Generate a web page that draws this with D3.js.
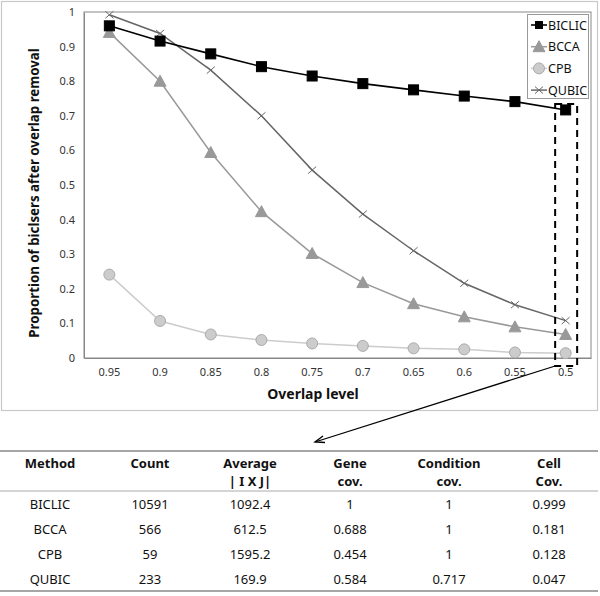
<!DOCTYPE html>
<html><head><meta charset="utf-8">
<script src="https://cdn.jsdelivr.net/npm/d3@7"></script>
<style>body{margin:0;background:#fff;font-family:"Noto Sans","Open Sans",sans-serif;}</style>
</head><body><svg id="c" width="600" height="596"></svg>
<script>
const categories = ["0.95","0.9","0.85","0.8","0.75","0.7","0.65","0.6","0.55","0.5"];
const biclic = [0.960,0.916,0.879,0.842,0.815,0.793,0.775,0.757,0.741,0.717];
const bcca   = [0.941,0.800,0.594,0.423,0.302,0.218,0.157,0.119,0.090,0.068];
const cpb    = [0.241,0.107,0.068,0.052,0.042,0.035,0.028,0.025,0.016,0.014];
const qubic  = [0.992,0.938,0.832,0.700,0.543,0.416,0.310,0.216,0.154,0.108];
const yTicks = [0,0.1,0.2,0.3,0.4,0.5,0.6,0.7,0.8,0.9,1];
const tableHeaders = [["Method"],["Count"],["Average","| I X J|"],["Gene","cov."],["Condition","cov."],["Cell","Cov."]];
const tableRows = [
  ["BICLIC","10591","1092.4","1","1","0.999"],
  ["BCCA","566","612.5","0.688","1","0.181"],
  ["CPB","59","1595.2","0.454","1","0.128"],
  ["QUBIC","233","169.9","0.584","0.717","0.047"]
];

const svg = d3.select("#c");
const font = '"Noto Sans","Open Sans",sans-serif';
// outer frame
svg.append("rect").attr("x",1.5).attr("y",1.5).attr("width",596).attr("height",409)
  .attr("fill","#fff").attr("stroke","#c8c8c8").attr("stroke-width",1.2);

const L=84,R=591,T=12,B=358;
const x = d3.scaleBand().domain(categories).range([L,R]);
const y = d3.scaleLinear().domain([0,1]).range([B,T]);

// plot border
svg.append("rect").attr("x",L).attr("y",T).attr("width",R-L).attr("height",B-T)
  .attr("fill","none").attr("stroke","#888").attr("stroke-width",1);

// axes
const yAxis = svg.append("g").attr("transform",`translate(${L},0)`)
  .call(d3.axisLeft(y).tickValues(yTicks).tickSize(0).tickPadding(9).tickFormat(d=>d3.format("~g")(d)));
yAxis.select(".domain").attr("stroke","#888");
yAxis.selectAll("text").attr("font-family",font).attr("font-size",11).attr("fill","#333");
const xAxis = svg.append("g").attr("transform",`translate(0,${B})`)
  .call(d3.axisBottom(x).tickSize(0).tickPadding(10));
xAxis.select(".domain").attr("stroke","#888");
xAxis.selectAll("text").attr("font-family",font).attr("font-size",11).attr("fill","#333");

// titles
svg.append("text").attr("x",313).attr("y",399).attr("text-anchor","middle")
  .attr("font-family",font).attr("font-weight","bold").attr("font-size",14).attr("fill","#111").text("Overlap level");
svg.append("text").attr("transform","translate(39,193) rotate(-90)").attr("text-anchor","middle")
  .attr("font-family",font).attr("font-weight","bold").attr("font-size",13.3).attr("fill","#111")
  .text("Proportion of biclsers after overlap removal");

const series = [
  {name:"BICLIC", vals:biclic, color:"#000", mfill:"#000", mstroke:"#000", marker:"square", w:1.6},
  {name:"BCCA", vals:bcca, color:"#999", mfill:"#999", mstroke:"#999", marker:"triangle", w:1.5},
  {name:"CPB", vals:cpb, color:"#ccc", mfill:"#ccc", mstroke:"#aaa", marker:"circle", w:1.5},
  {name:"QUBIC", vals:qubic, color:"#666", mfill:"none", mstroke:"#666", marker:"x", w:1.5}
];
const line = d3.line().x((d,i)=>x(categories[i])+x.bandwidth()/2).y(d=>y(d));

function drawMarker(g, type, cx, cy, s){
  if(type==="square"){
    g.append("rect").attr("x",cx-5).attr("y",cy-5).attr("width",10).attr("height",10).attr("fill",s.mfill).attr("stroke",s.mstroke);
  } else if(type==="triangle"){
    g.append("path").attr("d",`M${cx},${cy-6}L${cx+6},${cy+5}L${cx-6},${cy+5}Z`).attr("fill",s.mfill).attr("stroke",s.mstroke);
  } else if(type==="circle"){
    g.append("circle").attr("cx",cx).attr("cy",cy).attr("r",5.5).attr("fill",s.mfill).attr("stroke",s.mstroke);
  } else {
    g.append("path").attr("d",`M${cx-4},${cy-3.5}L${cx+4},${cy+3.5}M${cx-4},${cy+3.5}L${cx+4},${cy-3.5}`).attr("stroke",s.mstroke).attr("stroke-width",1).attr("fill","none");
  }
}

// draw in order so BICLIC is on top
[series[2],series[1],series[3],series[0]].forEach(s=>{
  const g = svg.append("g");
  g.append("path").datum(s.vals).attr("d",line).attr("fill","none").attr("stroke",s.color).attr("stroke-width",s.w);
  s.vals.forEach((v,i)=>drawMarker(g,s.marker,x(categories[i])+x.bandwidth()/2,y(v),s));
});

// legend
const lg = svg.append("g");
lg.append("rect").attr("x",527.5).attr("y",14.5).attr("width",61).attr("height",84).attr("fill","#fff").attr("stroke","#999");
series.forEach((s,i)=>{
  const cy = 25 + i*21.7;
  lg.append("line").attr("x1",531).attr("x2",547).attr("y1",cy).attr("y2",cy).attr("stroke",s.color).attr("stroke-width",s.w);
  if(s.marker==="square"){ lg.append("rect").attr("x",535).attr("y",cy-4).attr("width",8).attr("height",8).attr("fill","#000"); }
  else drawMarker(lg,s.marker,539,cy,s);
  lg.append("text").attr("x",548).attr("y",cy).attr("dy","0.36em").attr("font-family",font).attr("font-size",12.5).attr("fill","#111").text(s.name);
});

// dashed highlight
const lastX = x(categories[categories.length-1])+x.bandwidth()/2;
svg.append("rect").attr("x",lastX-10.5).attr("y",104).attr("width",22).attr("height",262)
  .attr("fill","none").attr("stroke","#000").attr("stroke-width",2).attr("stroke-dasharray","7,5");

// arrow
svg.append("line").attr("x1",lastX-10.5).attr("y1",366).attr("x2",315).attr("y2",442)
  .attr("stroke","#000").attr("stroke-width",1.3);
svg.append("path").attr("d","M323,436 L315,442 L325,442.5").attr("fill","none").attr("stroke","#000").attr("stroke-width",1.3);

// table
const colX = [50,150,250,350,449,549];
svg.append("line").attr("x1",0).attr("x2",598).attr("y1",451).attr("y2",451).attr("stroke","#888").attr("stroke-width",1.5);
svg.append("line").attr("x1",0).attr("x2",598).attr("y1",491).attr("y2",491).attr("stroke","#aaa").attr("stroke-width",1);
svg.append("line").attr("x1",0).attr("x2",598).attr("y1",591).attr("y2",591).attr("stroke","#888").attr("stroke-width",1.5);
tableHeaders.forEach((h,i)=>{
  h.forEach((t,j)=>{
    svg.append("text").attr("x",colX[i]).attr("y",(h.length===1?463:463+j*18)).attr("dy","0.36em")
      .attr("text-anchor","middle").attr("font-family",font).attr("font-weight","bold").attr("font-size",13).attr("fill","#111").text(t);
  });
});
tableRows.forEach((r,ri)=>{
  r.forEach((t,ci)=>{
    svg.append("text").attr("x",colX[ci]).attr("y",504+ri*25).attr("dy","0.36em")
      .attr("text-anchor","middle").attr("font-family",font).attr("font-size",13).attr("fill","#111").text(t);
  });
});
</script></body></html>
